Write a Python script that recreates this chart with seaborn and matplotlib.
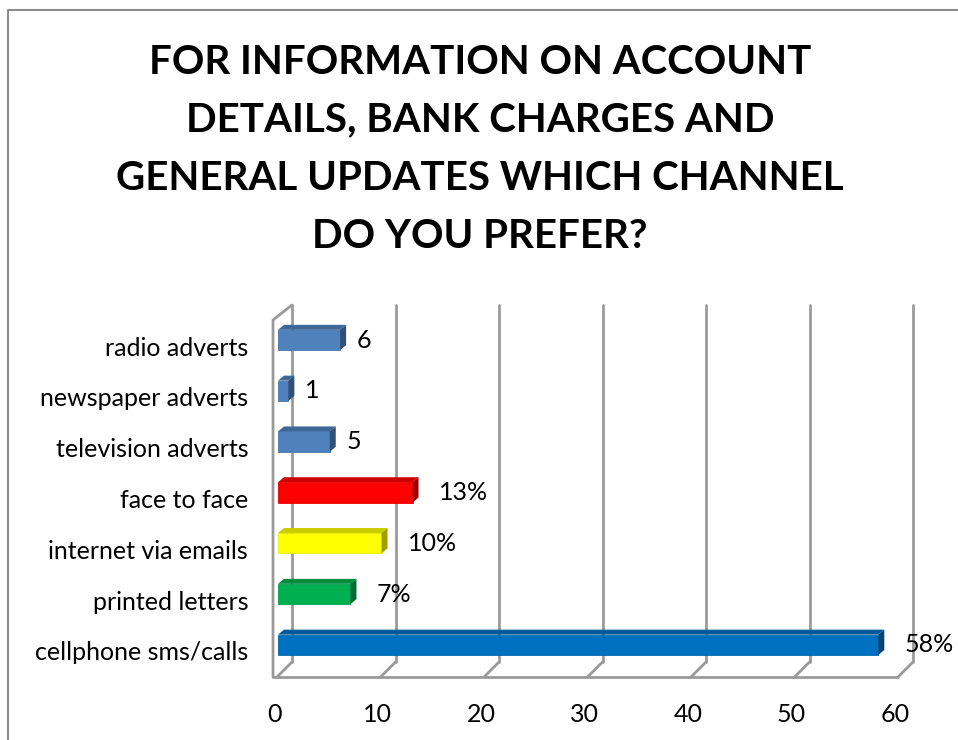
import numpy as np
import pandas as pd
import matplotlib
matplotlib.use("Agg")
import matplotlib.pyplot as plt
import matplotlib.transforms as mtransforms
from matplotlib.patches import Polygon
from matplotlib.lines import Line2D
from matplotlib.colors import to_rgb
import seaborn as sns

# ---- data ----
channels = ["radio adverts", "newspaper adverts", "television adverts", "face to face",
            "internet via emails", "printed letters", "cellphone sms/calls"]
responses = [6, 1, 5, 13, 10, 7, 58]
value_labels = ["6", "1", "5", "13%", "10%", "7%", "58%"]
bar_colors = ["#4F81BD", "#4F81BD", "#4F81BD", "#FF0000", "#FFFF00", "#00B050", "#0070C0"]
x_ticks = [0, 10, 20, 30, 40, 50, 60]
title_lines = ["FOR INFORMATION ON ACCOUNT", "DETAILS, BANK CHARGES AND",
               "GENERAL UPDATES WHICH CHANNEL", "DO YOU PREFER?"]

df = pd.DataFrame({"channel": channels, "responses": responses})

W, H = 958, 740
sns.set_style("white")
plt.rcParams["font.family"] = ["Lato", "DejaVu Sans"]

fig = plt.figure(figsize=(W / 100, H / 100), dpi=100)

# plot area placed in pixel units
x0_px, x60_px = 278, 899
y_top_px, y_bot_px = 290, 690
row0_px, row_step = 340, 50.8
ax = fig.add_axes([x0_px / W, 1 - y_bot_px / H, (x60_px - x0_px) / W, (y_bot_px - y_top_px) / H])

sns.barplot(data=df, x="responses", y="channel", hue="channel", palette=bar_colors,
            order=channels, hue_order=channels, orient="h", width=0.40,
            saturation=1, legend=False, ax=ax, zorder=3)

ax.set_xlim(0, 60)
ax.set_ylim((y_bot_px - row0_px) / row_step, (y_top_px - row0_px) / row_step)

ux = 60 / (x60_px - x0_px)     # data units per pixel, x
uy = 1 / row_step              # data units per pixel, y

# ---- 3D box: back wall grid and floor ----
grid_col = "#9A9A9A"
bdx = 14 * ux
y_back_floor = (662 - row0_px) * uy
y_back_top = (305 - row0_px) * uy
y_front_floor = (677 - row0_px) * uy
y_front_top = (320 - row0_px) * uy
x_front_left = -5 * ux
lw = 2.0
for xv in x_ticks:
    ax.add_line(Line2D([xv + bdx, xv + bdx], [y_back_floor, y_back_top], color=grid_col,
                       lw=lw, clip_on=False, zorder=1))
    ax.add_line(Line2D([xv + bdx, xv - 1 * ux], [y_back_floor, y_front_floor], color=grid_col,
                       lw=lw, clip_on=False, zorder=1))
ax.add_line(Line2D([x_front_left, 60 - 1 * ux], [y_front_floor, y_front_floor], color=grid_col,
                   lw=lw, clip_on=False, zorder=1))
ax.add_line(Line2D([x_front_left, x_front_left, bdx], [y_front_floor, y_front_top, y_back_top],
                   color=grid_col, lw=lw, clip_on=False, zorder=1))

# ---- extruded bar faces ----
ddx, ddy = 6 * ux, -5 * uy


def shade(c, f):
    r, g, b = to_rgb(c)
    return (r * f, g * f, b * f)


for patch, col in zip(ax.patches, bar_colors):
    x, y = patch.get_x(), patch.get_y()
    w, h = patch.get_width(), patch.get_height()
    patch.set_edgecolor(shade(col, 0.92))
    patch.set_linewidth(0.6)
    top = Polygon([(x, y), (x + w, y), (x + w + ddx, y + ddy), (x + ddx, y + ddy)],
                  closed=True, facecolor=shade(col, 0.80), edgecolor="none", zorder=3)
    side = Polygon([(x + w, y), (x + w + ddx, y + ddy), (x + w + ddx, y + h + ddy), (x + w, y + h)],
                   closed=True, facecolor=shade(col, 0.62), edgecolor="none", zorder=3)
    ax.add_patch(top)
    ax.add_patch(side)

# ---- value labels ----
for i, (v, lab) in enumerate(zip(responses, value_labels)):
    ax.annotate(lab, xy=(v, i), xytext=(17 if "%" not in lab else 26, 0),
                textcoords="offset pixels", ha="left", va="center",
                fontsize=18, color="#000000", annotation_clip=False, zorder=4)

# ---- axes text ----
ax.set_xticks(x_ticks)
ax.set_xticklabels([str(t) for t in x_ticks])
ax.set_xlabel("")
ax.set_ylabel("")
ax.tick_params(axis="x", length=0, pad=9, labelsize=18, labelcolor="#000000")
ax.tick_params(axis="y", length=0, pad=21.5, labelsize=18, labelcolor="#000000")
shift_x = mtransforms.ScaledTranslation(-4 / 100, 0, fig.dpi_scale_trans)
for t in ax.get_xticklabels():
    t.set_transform(t.get_transform() + shift_x)
shift_y = mtransforms.ScaledTranslation(0, -6 / 100, fig.dpi_scale_trans)
for t in ax.get_yticklabels():
    t.set_transform(t.get_transform() + shift_y)
for s in ax.spines.values():
    s.set_visible(False)
ax.grid(False)

# ---- title ----
for k, line in enumerate(title_lines):
    fig.text(480 / W, 1 - (62 + 58 * k) / H, line, ha="center", va="center",
             fontsize=29, fontweight="bold", color="#000000")

# ---- chart frame ----
fig.add_artist(Line2D([8 / W, 8 / W, 1.0], [0.0, 1 - 10 / H, 1 - 10 / H],
                      transform=fig.transFigure, color="#8C8C8C", lw=1.5))

fig.savefig("out.png", dpi=100, facecolor="white")
